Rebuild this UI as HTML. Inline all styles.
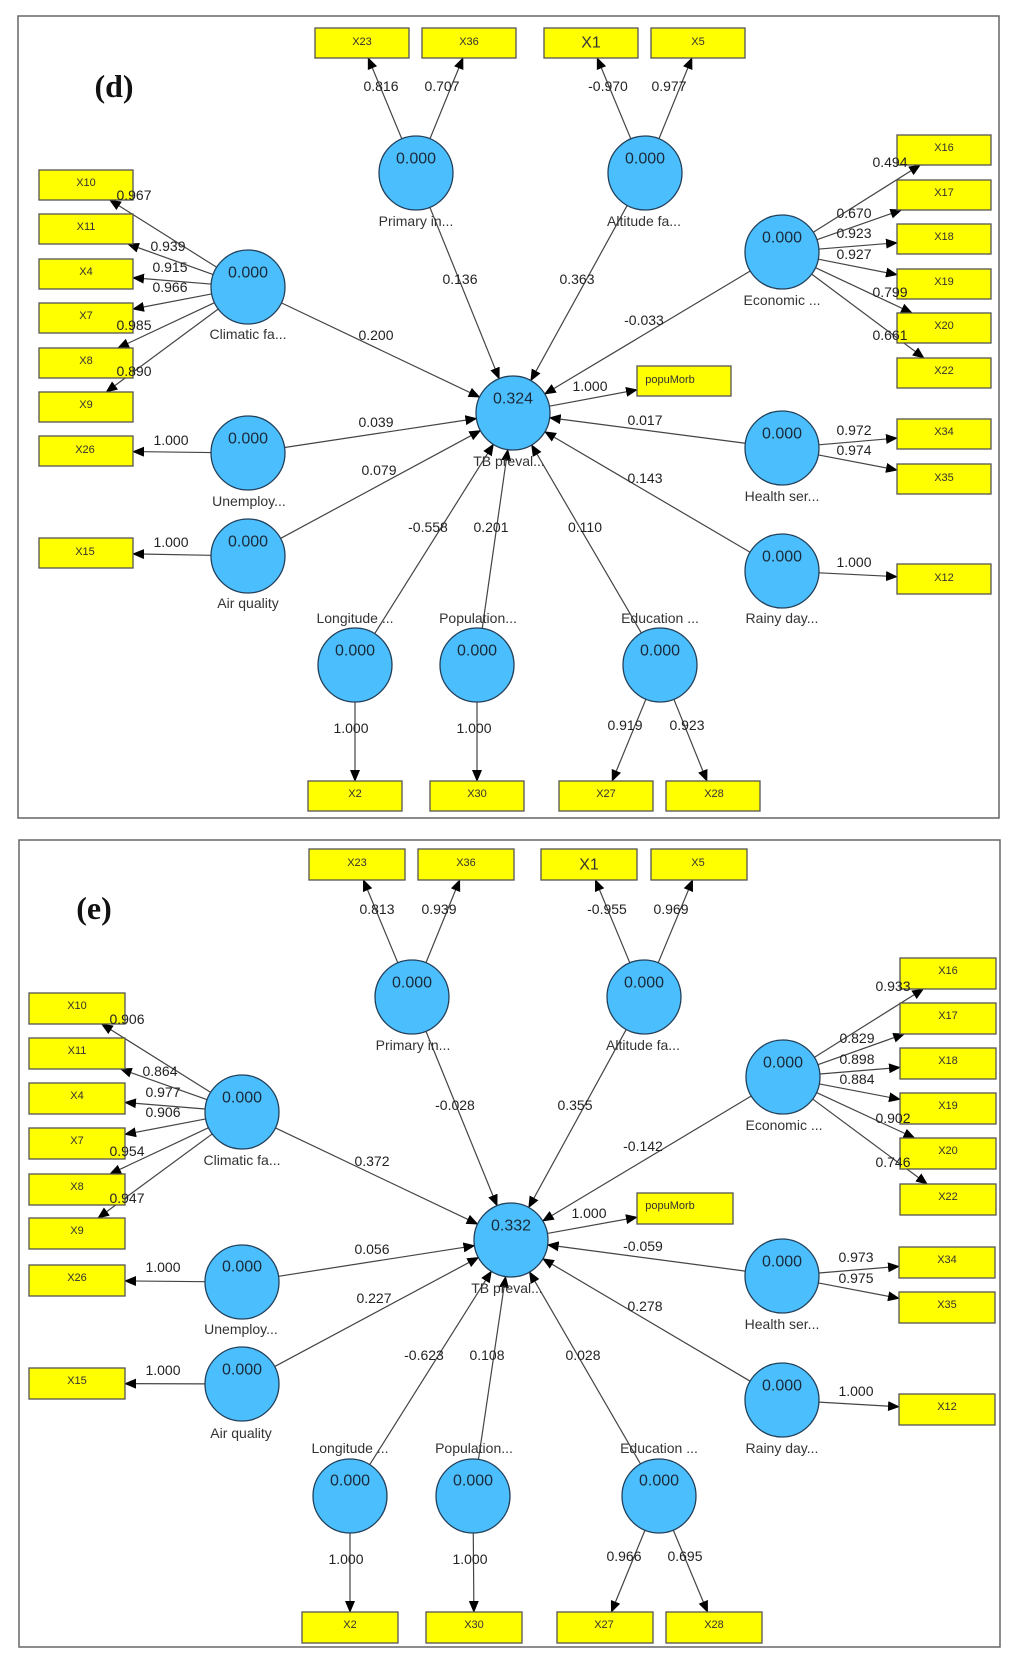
<!DOCTYPE html>
<html><head><meta charset="utf-8">
<style>
html,body{margin:0;padding:0;background:#fff;}
svg{display:block;}
text{font-family:"Liberation Sans",Arial,sans-serif;fill:#222;}
.el{font-size:14px;text-anchor:middle;dominant-baseline:central;}
.nl{font-size:14px;text-anchor:middle;dominant-baseline:central;fill:#333;}
.cv{font-size:16px;text-anchor:middle;dominant-baseline:central;fill:#1a2a3a;}
.bl{font-size:11px;text-anchor:middle;dominant-baseline:central;fill:#333;}
.big{font-family:"Liberation Serif",serif;font-weight:bold;font-size:32px;text-anchor:middle;dominant-baseline:central;fill:#111;}
</style></head>
<body>
<svg id="s" width="1024" height="1673" viewBox="0 0 1024 1673" xmlns="http://www.w3.org/2000/svg">
<defs><marker id="ah" markerUnits="userSpaceOnUse" markerWidth="12" markerHeight="10" refX="11" refY="5" orient="auto"><path d="M0,0 L12,5 L0,10 z" fill="#000"/></marker></defs>
<rect x="18" y="16" width="981" height="802" fill="#fff" stroke="#666" stroke-width="1.5"/>
<rect x="19" y="840" width="981" height="807" fill="#fff" stroke="#666" stroke-width="1.5"/>
<g id="lines"></g>
<g id="shapes"></g>
<g id="txt">
<!-- panel d -->
<text class="big" x="114" y="86">(d)</text>
<text class="bl" x="362" y="42">X23</text><text class="bl" x="469" y="42">X36</text>
<text class="bl" x="591" y="43" style="font-size:16px">X1</text><text class="bl" x="698" y="42">X5</text>
<text class="bl" x="86" y="183">X10</text><text class="bl" x="86" y="227">X11</text><text class="bl" x="86" y="272">X4</text>
<text class="bl" x="86" y="316">X7</text><text class="bl" x="86" y="361">X8</text><text class="bl" x="86" y="405">X9</text>
<text class="bl" x="944" y="148">X16</text><text class="bl" x="944" y="193">X17</text><text class="bl" x="944" y="237">X18</text>
<text class="bl" x="944" y="282">X19</text><text class="bl" x="944" y="326">X20</text><text class="bl" x="944" y="371">X22</text>
<text class="bl" x="670" y="380">popuMorb</text>
<text class="bl" x="85" y="450">X26</text><text class="bl" x="85" y="552">X15</text>
<text class="bl" x="944" y="432">X34</text><text class="bl" x="944" y="478">X35</text><text class="bl" x="944" y="578">X12</text>
<text class="bl" x="355" y="794">X2</text><text class="bl" x="477" y="794">X30</text><text class="bl" x="606" y="794">X27</text><text class="bl" x="714" y="794">X28</text>

<text class="cv" x="416" y="159">0.000</text><text class="cv" x="645" y="159">0.000</text>
<text class="cv" x="248" y="273">0.000</text><text class="cv" x="782" y="238">0.000</text>
<text class="cv" x="513" y="399">0.324</text>
<text class="cv" x="248" y="439">0.000</text><text class="cv" x="248" y="542">0.000</text>
<text class="cv" x="782" y="434">0.000</text><text class="cv" x="782" y="557">0.000</text>
<text class="cv" x="355" y="651">0.000</text><text class="cv" x="477" y="651">0.000</text><text class="cv" x="660" y="651">0.000</text>

<text class="nl" x="416" y="221">Primary in...</text><text class="nl" x="644" y="221">Altitude fa...</text>
<text class="nl" x="248" y="334">Climatic fa...</text><text class="nl" x="782" y="300">Economic ...</text>
<text class="nl" x="509" y="461">TB preval...</text><text class="nl" x="249" y="501">Unemploy...</text>
<text class="nl" x="248" y="603">Air quality</text><text class="nl" x="782" y="496">Health ser...</text>
<text class="nl" x="782" y="618">Rainy day...</text><text class="nl" x="355" y="618">Longitude ...</text>
<text class="nl" x="478" y="618">Population...</text><text class="nl" x="660" y="618">Education ...</text>

<text class="el" x="381" y="86">0.816</text><text class="el" x="442" y="86">0.707</text>
<text class="el" x="608" y="86">-0.970</text><text class="el" x="669" y="86">0.977</text>
<text class="el" x="134" y="195">0.967</text><text class="el" x="168" y="246">0.939</text>
<text class="el" x="170" y="267">0.915</text><text class="el" x="170" y="287">0.966</text>
<text class="el" x="134" y="325">0.985</text><text class="el" x="134" y="371">0.890</text>
<text class="el" x="460" y="279">0.136</text><text class="el" x="577" y="279">0.363</text>
<text class="el" x="376" y="335">0.200</text><text class="el" x="644" y="320">-0.033</text>
<text class="el" x="890" y="162">0.494</text><text class="el" x="854" y="213">0.670</text>
<text class="el" x="854" y="233">0.923</text><text class="el" x="854" y="254">0.927</text>
<text class="el" x="890" y="292">0.799</text><text class="el" x="890" y="335">0.661</text>
<text class="el" x="590" y="386">1.000</text>
<text class="el" x="376" y="422">0.039</text><text class="el" x="379" y="470">0.079</text>
<text class="el" x="645" y="420">0.017</text><text class="el" x="645" y="478">0.143</text>
<text class="el" x="428" y="527">-0.558</text><text class="el" x="491" y="527">0.201</text><text class="el" x="585" y="527">0.110</text>
<text class="el" x="854" y="430">0.972</text><text class="el" x="854" y="450">0.974</text>
<text class="el" x="854" y="562">1.000</text>
<text class="el" x="171" y="440">1.000</text><text class="el" x="171" y="542">1.000</text>
<text class="el" x="351" y="728">1.000</text><text class="el" x="474" y="728">1.000</text>
<text class="el" x="625" y="725">0.919</text><text class="el" x="687" y="725">0.923</text>

<!-- panel e -->
<text class="big" x="94" y="908">(e)</text>
<text class="bl" x="357" y="863">X23</text><text class="bl" x="466" y="863">X36</text>
<text class="bl" x="589" y="865" style="font-size:16px">X1</text><text class="bl" x="698" y="863">X5</text>
<text class="bl" x="77" y="1006">X10</text><text class="bl" x="77" y="1051">X11</text><text class="bl" x="77" y="1096">X4</text>
<text class="bl" x="77" y="1141">X7</text><text class="bl" x="77" y="1187">X8</text><text class="bl" x="77" y="1231">X9</text>
<text class="bl" x="948" y="971">X16</text><text class="bl" x="948" y="1016">X17</text><text class="bl" x="948" y="1061">X18</text>
<text class="bl" x="948" y="1106">X19</text><text class="bl" x="948" y="1151">X20</text><text class="bl" x="948" y="1197">X22</text>
<text class="bl" x="670" y="1206">popuMorb</text>
<text class="bl" x="77" y="1278">X26</text><text class="bl" x="77" y="1381">X15</text>
<text class="bl" x="947" y="1260">X34</text><text class="bl" x="947" y="1305">X35</text><text class="bl" x="947" y="1407">X12</text>
<text class="bl" x="350" y="1625">X2</text><text class="bl" x="474" y="1625">X30</text><text class="bl" x="604" y="1625">X27</text><text class="bl" x="714" y="1625">X28</text>

<text class="cv" x="412" y="983">0.000</text><text class="cv" x="644" y="983">0.000</text>
<text class="cv" x="242" y="1098">0.000</text><text class="cv" x="783" y="1063">0.000</text>
<text class="cv" x="511" y="1226">0.332</text>
<text class="cv" x="242" y="1267">0.000</text><text class="cv" x="242" y="1370">0.000</text>
<text class="cv" x="782" y="1262">0.000</text><text class="cv" x="782" y="1386">0.000</text>
<text class="cv" x="350" y="1481">0.000</text><text class="cv" x="473" y="1481">0.000</text><text class="cv" x="659" y="1481">0.000</text>

<text class="nl" x="413" y="1045">Primary in...</text><text class="nl" x="643" y="1045">Altitude fa...</text>
<text class="nl" x="242" y="1160">Climatic fa...</text><text class="nl" x="784" y="1125">Economic ...</text>
<text class="nl" x="507" y="1288">TB preval...</text><text class="nl" x="241" y="1329">Unemploy...</text>
<text class="nl" x="241" y="1433">Air quality</text><text class="nl" x="782" y="1324">Health ser...</text>
<text class="nl" x="782" y="1448">Rainy day...</text><text class="nl" x="350" y="1448">Longitude ...</text>
<text class="nl" x="474" y="1448">Population...</text><text class="nl" x="659" y="1448">Education ...</text>

<text class="el" x="377" y="909">0.813</text><text class="el" x="439" y="909">0.939</text>
<text class="el" x="607" y="909">-0.955</text><text class="el" x="671" y="909">0.969</text>
<text class="el" x="127" y="1019">0.906</text><text class="el" x="160" y="1071">0.864</text>
<text class="el" x="163" y="1092">0.977</text><text class="el" x="163" y="1112">0.906</text>
<text class="el" x="127" y="1151">0.954</text><text class="el" x="127" y="1198">0.947</text>
<text class="el" x="455" y="1105">-0.028</text><text class="el" x="575" y="1105">0.355</text>
<text class="el" x="372" y="1161">0.372</text><text class="el" x="643" y="1146">-0.142</text>
<text class="el" x="893" y="986">0.933</text><text class="el" x="857" y="1038">0.829</text>
<text class="el" x="857" y="1059">0.898</text><text class="el" x="857" y="1079">0.884</text>
<text class="el" x="893" y="1118">0.902</text><text class="el" x="893" y="1162">0.746</text>
<text class="el" x="589" y="1213">1.000</text>
<text class="el" x="372" y="1249">0.056</text><text class="el" x="374" y="1298">0.227</text>
<text class="el" x="643" y="1246">-0.059</text><text class="el" x="645" y="1306">0.278</text>
<text class="el" x="424" y="1355">-0.623</text><text class="el" x="487" y="1355">0.108</text><text class="el" x="583" y="1355">0.028</text>
<text class="el" x="856" y="1257">0.973</text><text class="el" x="856" y="1278">0.975</text>
<text class="el" x="856" y="1391">1.000</text>
<text class="el" x="163" y="1267">1.000</text><text class="el" x="163" y="1370">1.000</text>
<text class="el" x="346" y="1559">1.000</text><text class="el" x="470" y="1559">1.000</text>
<text class="el" x="624" y="1556">0.966</text><text class="el" x="685" y="1556">0.695</text>
</g>
</svg>
<script>
(function(){
var NS="http://www.w3.org/2000/svg";
var R=37;
function panel(C,B,W,H,E){
  var L=document.getElementById("lines"),S=document.getElementById("shapes");
  for(var k in B){var b=B[k];var r=document.createElementNS(NS,"rect");
    r.setAttribute("x",b[0]);r.setAttribute("y",b[1]);r.setAttribute("width",W);r.setAttribute("height",H);
    r.setAttribute("fill","#ffff00");r.setAttribute("stroke","#555");r.setAttribute("stroke-width","1.3");S.appendChild(r);}
  for(var k in C){var c=C[k];var e=document.createElementNS(NS,"circle");
    e.setAttribute("cx",c[0]);e.setAttribute("cy",c[1]);e.setAttribute("r",R);
    e.setAttribute("fill","#4bbffd");e.setAttribute("stroke","#23405a");e.setAttribute("stroke-width","1.3");S.appendChild(e);}
  E.forEach(function(p){
    var s=C[p[0]],x1,y1,x2,y2;
    if(C[p[1]]){var t=C[p[1]];var dx=t[0]-s[0],dy=t[1]-s[1],d=Math.hypot(dx,dy);
      x1=s[0]+dx/d*R;y1=s[1]+dy/d*R;x2=t[0]-dx/d*R;y2=t[1]-dy/d*R;}
    else{var b=B[p[1]];var cx=b[0]+W/2,cy=b[1]+H/2;var dx=cx-s[0],dy=cy-s[1],d=Math.hypot(dx,dy);
      x1=s[0]+dx/d*R;y1=s[1]+dy/d*R;
      var tx=dx?(W/2)/Math.abs(dx):1e9,ty=dy?(H/2)/Math.abs(dy):1e9,tt=Math.min(tx,ty);
      x2=cx-dx*tt;y2=cy-dy*tt;}
    var l=document.createElementNS(NS,"line");
    l.setAttribute("x1",x1);l.setAttribute("y1",y1);l.setAttribute("x2",x2);l.setAttribute("y2",y2);
    l.setAttribute("stroke","#444");l.setAttribute("stroke-width","1.2");l.setAttribute("marker-end","url(#ah)");
    L.appendChild(l);});
}
var E=[["Pri","X23"],["Pri","X36"],["Alt","X1"],["Alt","X5"],
["Cli","X10"],["Cli","X11"],["Cli","X4"],["Cli","X7"],["Cli","X8"],["Cli","X9"],
["Eco","X16"],["Eco","X17"],["Eco","X18"],["Eco","X19"],["Eco","X20"],["Eco","X22"],
["TB","pop"],["Une","X26"],["Air","X15"],["Hea","X34"],["Hea","X35"],["Rai","X12"],
["Lon","X2"],["Pop","X30"],["Edu","X27"],["Edu","X28"],
["Pri","TB"],["Alt","TB"],["Cli","TB"],["Eco","TB"],["Une","TB"],["Air","TB"],["Hea","TB"],["Rai","TB"],["Lon","TB"],["Pop","TB"],["Edu","TB"]];
panel({Pri:[416,173],Alt:[645,173],Cli:[248,287],Eco:[782,252],TB:[513,413],Une:[248,453],Air:[248,556],Hea:[782,448],Rai:[782,571],Lon:[355,665],Pop:[477,665],Edu:[660,665]},
{X23:[315,28],X36:[422,28],X1:[544,28],X5:[651,28],X10:[39,170],X11:[39,214],X4:[39,259],X7:[39,303],X8:[39,348],X9:[39,392],
X16:[897,135],X17:[897,180],X18:[897,224],X19:[897,269],X20:[897,313],X22:[897,358],pop:[637,366],X26:[39,436],X15:[39,538],
X34:[897,419],X35:[897,464],X12:[897,564],X2:[308,781],X30:[430,781],X27:[559,781],X28:[666,781]},94,30,E);
panel({Pri:[412,997],Alt:[644,997],Cli:[242,1112],Eco:[783,1077],TB:[511,1240],Une:[242,1282],Air:[242,1384],Hea:[782,1276],Rai:[782,1400],Lon:[350,1496],Pop:[473,1496],Edu:[659,1496]},
{X23:[309,849],X36:[418,849],X1:[541,849],X5:[651,849],X10:[29,993],X11:[29,1038],X4:[29,1083],X7:[29,1128],X8:[29,1174],X9:[29,1218],
X16:[900,958],X17:[900,1003],X18:[900,1048],X19:[900,1093],X20:[900,1138],X22:[900,1184],pop:[637,1193],X26:[29,1265],X15:[29,1368],
X34:[899,1247],X35:[899,1292],X12:[899,1394],X2:[302,1612],X30:[426,1612],X27:[557,1612],X28:[666,1612]},96,31,E);
})();
</script>
</body></html>
